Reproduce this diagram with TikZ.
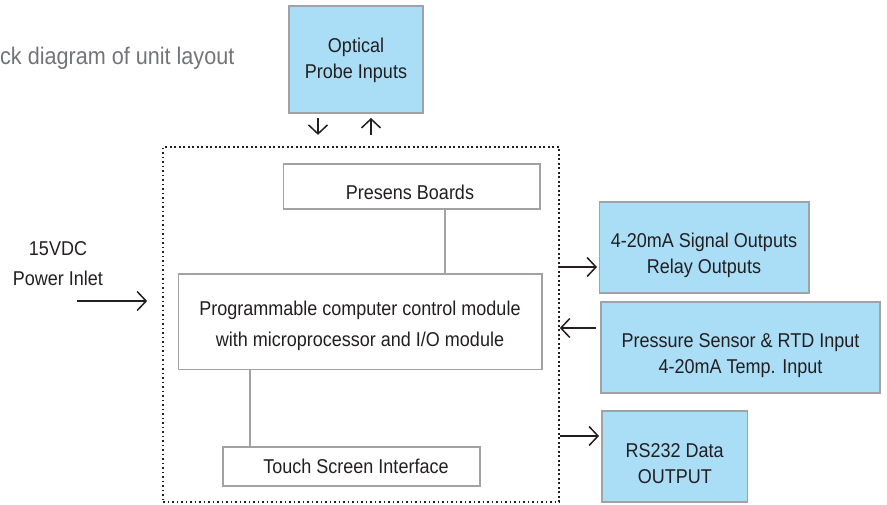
\documentclass[tikz,border=0pt]{standalone}
\usepackage{fontspec}
\setmainfont{Liberation Sans}[FakeStretch=0.9]
\usetikzlibrary{arrows.meta}
\definecolor{boxblue}{RGB}{170,222,247}
\definecolor{edgegray}{RGB}{160,162,165}
\definecolor{ink}{RGB}{35,31,32}
\definecolor{titlegray}{RGB}{115,116,119}
\begin{document}
\begin{tikzpicture}[x=1pt,y=-1pt,
  bluebox/.style={draw=edgegray, fill=boxblue, line width=1.8pt, inner sep=0pt},
  whitebox/.style={draw=edgegray, fill=white, line width=1.8pt, inner sep=0pt},
  lbl/.style={text=ink, font=\fontsize{20}{26}\selectfont, align=center, inner sep=0pt, anchor=north},
  link/.style={draw=edgegray, line width=1.8pt},
  arr/.style={draw=ink, line width=1.5pt, -{Straight Barb[length=9pt,width=19pt,line width=1.5pt]}},
  container/.style={draw=ink, line width=1.6pt, dash pattern=on 1.6pt off 2.9pt, inner sep=0pt},
]
\useasboundingbox (0,0) rectangle (887,504);

% title
\node[anchor=base west, inner sep=0pt, text=titlegray, font=\fontsize{24}{28}\selectfont] (title) at (0,64) {ck diagram of unit layout};

% container
\node[container, minimum width=396pt, minimum height=355pt] (cont) at (361,324.5) {};

% boxes
\node[bluebox, minimum width=134pt, minimum height=107pt] (optical) at (356,59.5) {};
\node[whitebox, minimum width=256.5pt, minimum height=45pt] (presens) at (411.75,186.5) {};
\node[whitebox, minimum width=363.5pt, minimum height=95.5pt] (prog) at (360.25,321.75) {};
\node[whitebox, minimum width=257pt, minimum height=39pt] (touch) at (351.5,466.5) {};
\node[bluebox, minimum width=209.5pt, minimum height=91pt] (sig) at (704.25,247.5) {};
\node[bluebox, minimum width=279pt, minimum height=91pt] (press) at (740.5,347.5) {};
\node[bluebox, minimum width=145.5pt, minimum height=91pt] (rs) at (674.75,456.5) {};

% labels
\node[lbl] (opticalT) at (356,38) {Optical\\Probe Inputs};
\node[lbl] (presensT) at (410,185) {Presens Boards};
\node[lbl, font=\fontsize{20}{30.5}\selectfont] (progT) at (360,301) {Programmable computer control module\\with microprocessor and I/O module};
\node[lbl] (touchT) at (356,459) {Touch Screen Interface};
\node[lbl] (sigT) at (704,233) {4-20mA Signal Outputs\\Relay Outputs};
\node[lbl] (pressT) at (740.5,333) {Pressure Sensor \& RTD Input\\4-20mA Temp. Input};
\node[lbl] (rsT) at (674.75,443) {RS232 Data\\OUTPUT};
\node[lbl, font=\fontsize{20}{30}\selectfont] (powerT) at (58,241) {15VDC\\Power Inlet};

% internal links
\draw[link] ([xshift=33.25pt]presens.south) -- ([xshift=33.25pt]presens.south |- prog.north);
\draw[link] ([xshift=-110.25pt]prog.south) -- ([xshift=-110.25pt]prog.south |- touch.north);

% optical arrows
\draw[arr] ([xshift=-38pt,yshift=-4pt]optical.south) -- ([xshift=-38pt,yshift=-21pt]optical.south);
\draw[arr] ([xshift=15pt,yshift=-21pt]optical.south) -- ([xshift=15pt,yshift=-4pt]optical.south);

% power arrow
\coordinate (pwr) at (77,301);
\draw[arr, shorten >=15pt] (pwr) -- (pwr -| cont.west);

% side arrows
\path ([yshift=-19.5pt]sig.west) coordinate (sigin);
\draw[arr, shorten >=1.5pt] (sigin -| cont.east) -- (sigin);
\path ([yshift=19.5pt]press.west) coordinate (pin);
\draw[arr, shorten <=4pt] (pin) -- (pin -| cont.east);
\path ([yshift=20.5pt]rs.west) coordinate (rsin);
\draw[arr, shorten >=2pt] (rsin -| cont.east) -- (rsin);
\end{tikzpicture}
\end{document}
